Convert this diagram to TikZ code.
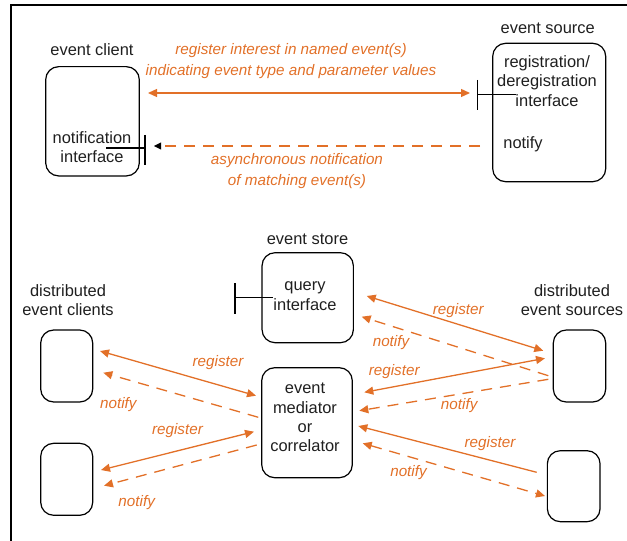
\documentclass[tikz,border=0pt]{standalone}
\usepackage{fontspec}
\setmainfont{Liberation Sans}
\usetikzlibrary{arrows.meta}
\definecolor{accent}{RGB}{226,112,40}
\tikzset{
  unit/.style={draw=black, line width=1.2bp, rounded corners=13bp, inner sep=0pt},
  plain/.style={font=\fontsize{16.5}{19.5}\selectfont, align=center, inner sep=0pt, text=black!88},
  remark/.style={font=\fontsize{15.3}{21}\selectfont\itshape, align=center, inner sep=0pt, text=accent},
  socket/.style={draw=black, line width=1.2bp},
  flow/.style={draw=accent, line width=1.3bp},
  async/.style={flow, dash pattern=on 11bp off 8bp},
  tip/.tip={Triangle[length=9bp,width=8bp,fill=accent,color=accent]},
}
\begin{document}
\begin{tikzpicture}[x=1bp,y=-1bp]
\useasboundingbox (0,0) rectangle (627,541);
% outer frame (left and top edges)
\draw[line width=1.2bp] (11,541) -- (11,5) -- (627,5);

% ---------- upper part: client and source ----------
\node[unit, minimum width=93.6bp, minimum height=109.3bp] (client) at (92.5,121.3) {};
\node[plain] (clientlbl) at (92,50) {event client};
\node[plain] (clientifc) at (92,147) {notification\\interface};

\node[unit, minimum width=113bp, minimum height=138.4bp] (source) at (549.2,112.5) {};
\node[plain] (sourcelbl) at (547.7,28) {event source};
\node[plain] (sourceifc) at (547,81) {registration/\\deregistration\\interface};
\node[plain] (sourcenot) at (523,144) {notify};

% interface sockets
\coordinate (cs) at (106,148);
\coordinate (ce) at (145,148);
\draw[socket] (cs) -- (ce) (145,135) -- (145,165);
\coordinate (ss) at (477.7,94.3);
\coordinate (se) at (516,94.3);
\draw[socket] (477.7,80) -- (477.7,110) (ss) -- (se);

% register / notify in the upper part
\coordinate (r1a) at (148,93);
\coordinate (r1b) at (470,93);
\draw[flow, tip-tip] (r1a) -- (r1b);
\coordinate (n1a) at (480,146);
\coordinate (n1b) at (154,146);
\coordinate (n1c) at (162,146);
\draw[async, line width=1.6bp] (n1a) -- (n1c);
\fill[black] (n1b) -- ++(7,-3.6) -- ++(0,7.2) -- cycle;
\node[remark] (regtxt) at (291,61) {register interest in named event(s)\\indicating event type and parameter values};
\node[remark] (asytxt) at (297,171) {asynchronous notification\\of matching event(s)};

% ---------- lower part: store, mediator, distributed parties ----------
\node[unit, minimum width=91.3bp, minimum height=90bp] (store) at (307.7,297.7) {};
\node[plain] (storelbl) at (307.5,239) {event store};
\node[plain] (storeifc) at (305,296.3) {query\\interface};
\coordinate (qs) at (235,297.7);
\coordinate (qe) at (273,297.7);
\draw[socket] (235,283.3) -- (235,314) (qs) -- (qe);

\node[unit, minimum width=90.6bp, minimum height=110bp] (med) at (307,422.7) {};
\node[plain] (medtxt) at (305,417.5) {event\\mediator\\or\\correlator};

\node[plain] (cltlbl) at (68,300) {distributed\\event clients};
\node[unit, minimum width=52bp, minimum height=72bp] (c1) at (66.7,366) {};
\node[unit, minimum width=52bp, minimum height=72bp] (c2) at (66.7,479.3) {};

\node[plain] (srclbl) at (572,300) {distributed\\event sources};
\node[unit, minimum width=52.4bp, minimum height=72bp] (s1) at (579.5,366) {};
\node[unit, minimum width=52.7bp, minimum height=71bp] (s2) at (573.7,486.2) {};

% client 1 <-> mediator
\coordinate (b1a) at (100,351);   \coordinate (b1b) at (256,395.7);
\draw[flow, tip-tip] (b1a) -- (b1b);
\coordinate (b2a) at (258.3,417.3); \coordinate (b2b) at (103.3,372.7);
\draw[async, -tip] (b2a) -- (b2b);
% client 2 <-> mediator
\coordinate (b3a) at (101,470);   \coordinate (b3b) at (254,431.7);
\draw[flow, tip-tip] (b3a) -- (b3b);
\coordinate (b4a) at (256.7,445); \coordinate (b4b) at (104,485.7);
\draw[async, -tip] (b4a) -- (b4b);
% source 1 <-> store
\coordinate (b5a) at (366.7,296); \coordinate (b5b) at (543.3,350.7);
\draw[flow, tip-tip] (b5a) -- (b5b);
\coordinate (b6a) at (548.3,375.7); \coordinate (b6b) at (361.7,316.7);
\draw[async, -tip] (b6a) -- (b6b);
% source 1 <-> mediator
\coordinate (b7a) at (364.3,392.3); \coordinate (b7b) at (545,358.3);
\draw[flow, tip-tip] (b7a) -- (b7b);
\coordinate (b8a) at (548.3,379.3); \coordinate (b8b) at (359.3,410.7);
\draw[async, -tip] (b8a) -- (b8b);
% source 2 <-> mediator
\coordinate (b9a) at (536.7,472.3); \coordinate (b9b) at (358.3,426);
\draw[flow, -tip] (b9a) -- (b9b);
\coordinate (b10a) at (362.7,443.3); \coordinate (b10b) at (545,496);
\draw[async, tip-tip] (b10a) -- (b10b);

% arrow labels
\node[remark] (l1) at (218,362.3) {register};
\node[remark] (l2) at (118.3,404.3) {notify};
\node[remark] (l3) at (177.5,431) {register};
\node[remark] (l4) at (136.7,502.7) {notify};
\node[remark] (l5) at (458.3,310.7) {register};
\node[remark] (l6) at (391,342.7) {notify};
\node[remark] (l7) at (394.2,371.7) {register};
\node[remark] (l8) at (459.2,406) {notify};
\node[remark] (l9) at (490,444) {register};
\node[remark] (l10) at (408.5,472.3) {notify};
\end{tikzpicture}
\end{document}
